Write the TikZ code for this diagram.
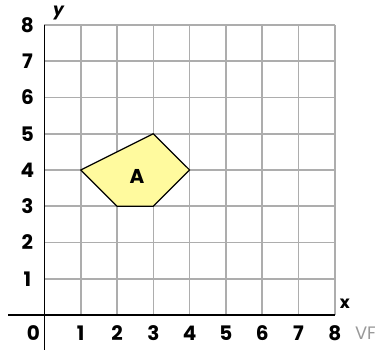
\documentclass[tikz,border=0pt]{standalone}
\usepackage{fontspec}
\setmainfont{Poppins}
\begin{document}
\begin{tikzpicture}[x=36.3pt,y=36.25pt,
  gridline/.style={draw=black!32, line width=1.6pt},
  axisline/.style={draw=black, line width=1.2pt},
  ticklabel/.style={font=\fontsize{20}{20}\selectfont\bfseries, inner sep=0pt},
  shapeA/.style={draw=black, line width=1.2pt, fill=yellow!38, line join=round}]
\useasboundingbox (-44.4pt,-36pt) rectangle (330.6pt,315pt);
\foreach \i in {1,...,8} {
  \draw[gridline] (\i,0) -- (\i,8);
  \draw[gridline] (0,\i) -- (8,\i);
}
\draw[axisline] (-36pt,0) -- (8,0);
\draw[axisline] (0,8) -- (0,-35pt);
\draw[shapeA] (1,4) -- (3,5) -- (4,4) -- (3,3) -- (2,3) -- cycle;
\node[ticklabel] (lblA) at (2.55,3.82) {A};
\foreach \i in {1,...,8} {
  \node[ticklabel] (xl\i) at ([yshift=-18pt]\i,0) {\i};
  \node[ticklabel] (yl\i) at ([xshift=-17pt]0,\i) {\i};
}
\node[ticklabel] (xl0) at (-11pt,-18pt) {0};
\node[font=\fontsize{17}{17}\selectfont\bfseries, inner sep=0pt] (xlab) at ([xshift=10pt,yshift=11pt]8,0) {x};
\node[font=\fontsize{17}{17}\selectfont\bfseries\itshape, inner sep=0pt] (ylab) at ([xshift=14pt,yshift=12pt]0,8) {y};
\node[font=\fontsize{18}{18}\selectfont, text=black!40, anchor=west, inner sep=0pt] (wm) at ([xshift=20pt,yshift=-18pt]8,0) {VF};
\end{tikzpicture}
\end{document}
